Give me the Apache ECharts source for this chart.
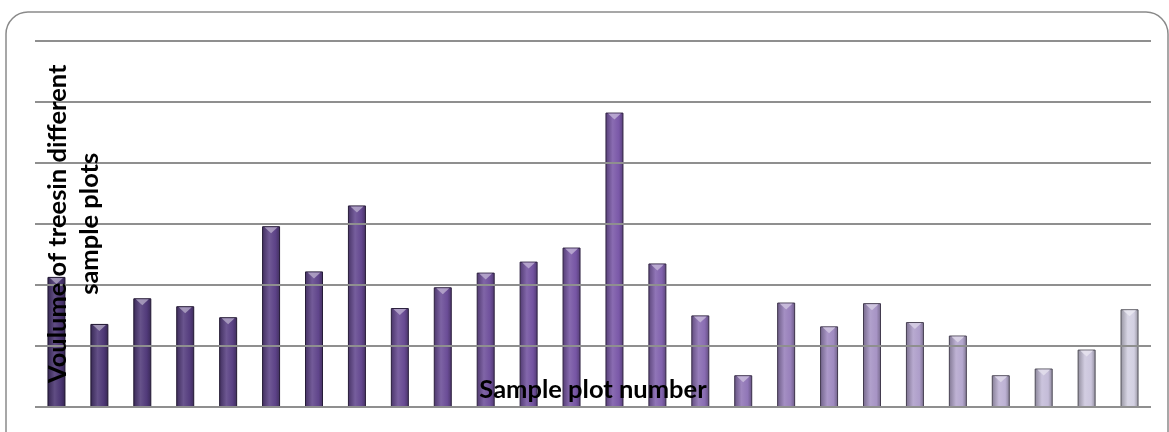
<!DOCTYPE html>
<html>
<head>
<meta charset="utf-8">
<script src="https://cdn.jsdelivr.net/npm/echarts@6/dist/echarts.min.js"></script>
<style>
html,body{margin:0;padding:0;background:#fff;}
#chart{width:1169px;height:432px;}
</style>
</head>
<body>
<div id="chart"></div>
<script>
// ---- data ----
const categories = ['1','2','3','4','5','6','7','8','9','10','11','12','13','14','15','16','17','18','19','20','21','22','23','24','25','26'];
const volumes = [2.13, 1.36, 1.78, 1.65, 1.47, 2.96, 2.22, 3.30, 1.62, 1.96, 2.20, 2.38, 2.61, 4.82, 2.35, 1.50, 0.52, 1.71, 1.32, 1.70, 1.39, 1.17, 0.52, 0.63, 0.94, 1.60];
const yTitle = 'Voulume of treesin different\nsample plots';
const xTitle = 'Sample plot number';

// ---- styling helpers ----
function hex2rgb(h){h=h.replace('#','');return [parseInt(h.substr(0,2),16),parseInt(h.substr(2,2),16),parseInt(h.substr(4,2),16)];}
function rgb2str(c){return 'rgb('+c.map(v=>Math.max(0,Math.min(255,Math.round(v)))).join(',')+')';}
function mix(a,b,t){return [a[0]+(b[0]-a[0])*t,a[1]+(b[1]-a[1])*t,a[2]+(b[2]-a[2])*t];}
const stops = [[0,'#4a3572'],[13,'#7a58a8'],[25,'#d3d0e2']];
function baseColor(i){
  for(let k=0;k<stops.length-1;k++){
    const [i0,c0]=stops[k],[i1,c1]=stops[k+1];
    if(i<=i1){return mix(hex2rgb(c0),hex2rgb(c1),(i-i0)/(i1-i0));}
  }
  return hex2rgb(stops[stops.length-1][1]);
}
function barStyle(i){
  const b=baseColor(i);
  const dark=mix(b,[0,0,0],0.3), light=mix(b,[255,255,255],0.12), edge=mix(b,[0,0,0],0.6);
  return {
    color:new echarts.graphic.LinearGradient(0,0,1,0,[
      {offset:0,color:rgb2str(dark)},
      {offset:0.4,color:rgb2str(light)},
      {offset:0.75,color:rgb2str(b)},
      {offset:1,color:rgb2str(dark)}
    ]),
    borderColor:rgb2str(edge),
    borderWidth:1
  };
}
function triColor(i){return rgb2str(mix(baseColor(i),[255,255,255],0.55));}

const chart = echarts.init(document.getElementById('chart'), null, {renderer:'canvas'});
const fontFamily = 'Lato, "Open Sans", sans-serif';

chart.setOption({
  animation:false,
  backgroundColor:'#fff',
  graphic:[{
    type:'rect',
    shape:{x:6,y:12,width:1162,height:450,r:22},
    style:{fill:'none',stroke:'#8a8a8a',lineWidth:1.5},
    z:0
  }],
  grid:{left:35,right:18,top:40.5,bottom:25,containLabel:false},
  xAxis:{
    type:'category',
    data:categories,
    axisLine:{show:false},axisTick:{show:false},axisLabel:{show:false},
    name:xTitle,
    nameLocation:'middle',
    nameGap:-17,
    nameTextStyle:{fontFamily:fontFamily,fontWeight:'bold',fontSize:25.5,color:'#000',verticalAlign:'middle'},
    z:10
  },
  yAxis:{
    type:'value',
    min:0,max:6,interval:1,
    axisLine:{show:false},axisTick:{show:false},axisLabel:{show:false},
    splitLine:{lineStyle:{color:'#8f8f8f',width:2}},
    name:yTitle,
    nameLocation:'middle',
    nameGap:-39,
    nameRotate:90,
    nameTextStyle:{fontFamily:fontFamily,fontWeight:'bold',fontSize:25.5,color:'#000',lineHeight:32,verticalAlign:'middle',align:'center'},
    z:10
  },
  series:[
    {
      type:'bar',
      barWidth:18,
      data:volumes.map((v,i)=>({value:v,itemStyle:barStyle(i)})),
      z:2
    },
    {
      type:'scatter',
      symbol:'path://M0,0L10,0L5,5Z',
      symbolSize:[13,6],
      symbolOffset:[0,4],
      data:volumes.map((v,i)=>({value:v,itemStyle:{color:triColor(i)}})),
      silent:true,
      z:3
    }
  ]
});
</script>
</body>
</html>
